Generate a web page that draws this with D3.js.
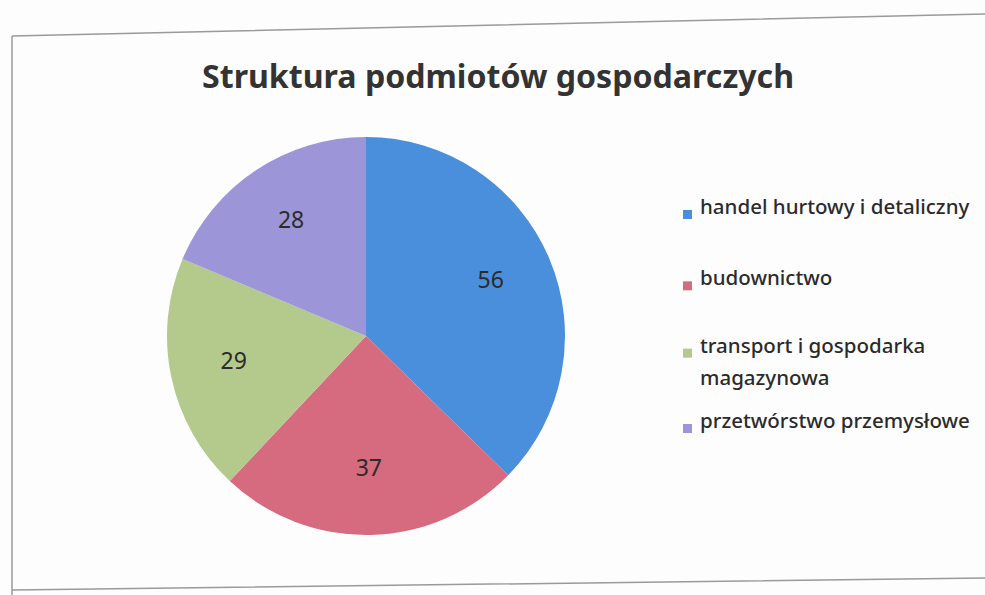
<!DOCTYPE html>
<html>
<head>
<meta charset="utf-8">
<script src="https://cdn.jsdelivr.net/npm/d3@7"></script>
<style>
  body { margin: 0; background: #fff; }
  text { font-family: "Noto Sans", "Open Sans", sans-serif; }
</style>
</head>
<body>
<div class="chart"></div>
<script>
var categories = ["handel hurtowy i detaliczny", "budownictwo", "transport i gospodarka magazynowa", "przetwórstwo przemysłowe"];
var values = [56, 37, 29, 28];
var colors = ["#4a8fdb", "#d66a7f", "#b4c98c", "#9c95d8"];
var legendLines = [["handel hurtowy i detaliczny"], ["budownictwo"], ["transport i gospodarka", "magazynowa"], ["przetwórstwo przemysłowe"]];

var width = 985;
var height = 595;
var cx = 366, cy = 336, radius = 199;

var svg = d3.select('.chart')
    .append('svg')
    .attr('width', width)
    .attr('height', height);

svg.append('rect')
    .attr('width', width)
    .attr('height', height)
    .attr('fill', '#fdfdfd');

// scanned frame, slightly tilted
svg.append('path')
    .attr('d', 'M12,36 L985,14 M12,36 L12,595 M12,590 L985,578')
    .attr('fill', 'none')
    .attr('stroke', '#9a9a9a')
    .attr('stroke-width', 1.5);

// title
svg.append('text')
    .attr('x', 498)
    .attr('y', 88)
    .attr('text-anchor', 'middle')
    .attr('font-size', 32)
    .attr('font-weight', 'bold')
    .attr('fill', '#333')
    .attr('textLength', 592)
    .attr('lengthAdjust', 'spacingAndGlyphs')
    .text('Struktura podmiotów gospodarczych');

var data = categories.map(function(c, i) {
    return { name: c, amount: values[i], color: colors[i] };
});

var pie = d3.pie()
    .sort(null)
    .value(function(d) { return d.amount; });

var arc = d3.arc()
    .outerRadius(radius)
    .innerRadius(0);

var label = d3.arc()
    .outerRadius(radius * 0.68)
    .innerRadius(radius * 0.68);

var g = svg.append('g')
    .attr('transform', 'translate(' + cx + ',' + cy + ')');

var arcs = g.selectAll('.arc')
    .data(pie(data))
    .enter()
    .append('g')
    .attr('class', 'arc');

arcs.append('path')
    .attr('d', arc)
    .attr('fill', function(d) { return d.data.color; });

arcs.append('text')
    .attr('transform', function(d) {
        return 'translate(' + label.centroid(d) + ')';
    })
    .attr('text-anchor', 'middle')
    .attr('dy', '0.2em')
    .attr('font-size', 23)
    .attr('fill', '#2b2b2b')
    .text(function(d) { return d.data.amount; });

// legend
var legendY = d3.scalePoint()
    .domain(categories)
    .range([214, 428]);
var legendOffsets = [0, 0, -4, 0];

var legend = svg.append('g')
    .selectAll('g')
    .data(data)
    .enter()
    .append('g')
    .attr('transform', function(d, i) {
        return 'translate(683,' + (legendY(d.name) + legendOffsets[i]) + ')';
    });

legend.append('rect')
    .attr('x', 0)
    .attr('y', -4)
    .attr('width', 9)
    .attr('height', 9)
    .attr('fill', function(d) { return d.color; });

legend.append('text')
    .attr('x', 17)
    .attr('y', 0)
    .attr('dy', '0.35em')
    .attr('font-size', 20.5)
    .attr('font-weight', 500)
    .attr('fill', '#2b2b2b')
    .selectAll('tspan')
    .data(function(d, i) { return legendLines[i]; })
    .enter()
    .append('tspan')
    .attr('x', 17)
    .attr('dy', function(d, i) { return i === 0 ? 0 : 32; })
    .text(function(d) { return d; });
</script>
</body>
</html>
